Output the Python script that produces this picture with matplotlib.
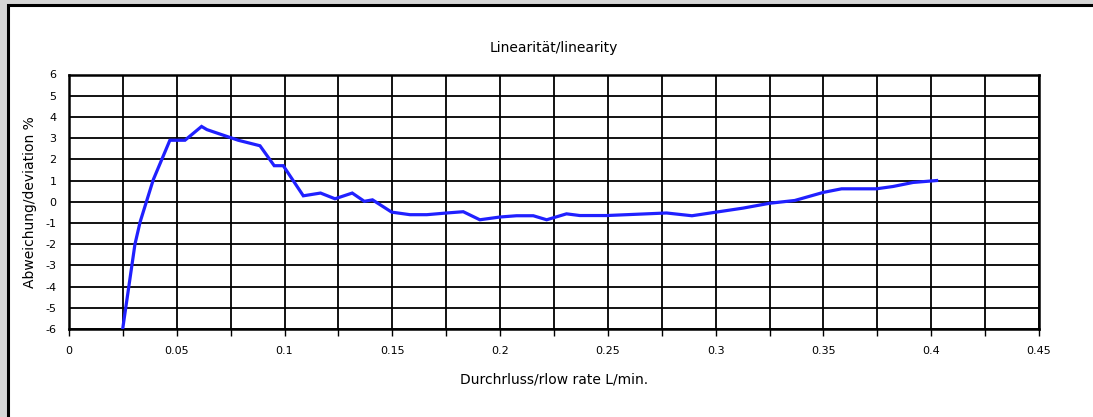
"""Linearity chart: deviation % vs flow rate"""

import matplotlib.pyplot as plt
from matplotlib.patches import Rectangle
from matplotlib.ticker import MultipleLocator, FixedLocator

plt.rcParams['axes.unicode_minus'] = False

# Data
flow = [0.0249, 0.0306, 0.0330, 0.0391, 0.0468, 0.0538, 0.0615, 0.0640,
        0.0785, 0.0886, 0.0952, 0.0994, 0.1087, 0.1167, 0.1234, 0.1314,
        0.1370, 0.1408, 0.1497, 0.1582, 0.1660, 0.1752, 0.1829, 0.1906,
        0.1999, 0.2076, 0.2154, 0.2216, 0.2308, 0.2370, 0.2494, 0.2772,
        0.2890, 0.3127, 0.3251, 0.3367, 0.3499, 0.3584, 0.3746, 0.3823,
        0.3916, 0.4025]
deviation = [-6.0, -2.0, -0.95, 1.04, 2.9, 2.9, 3.55, 3.4,
             2.9, 2.64, 1.70, 1.70, 0.28, 0.41, 0.14, 0.41,
             0.02, 0.09, -0.49, -0.61, -0.61, -0.53, -0.47, -0.85,
             -0.72, -0.66, -0.66, -0.85, -0.57, -0.65, -0.65, -0.53,
             -0.66, -0.30, -0.07, 0.06, 0.44, 0.61, 0.61, 0.72,
             0.91, 1.0]

x_ticks = [0, 0.05, 0.1, 0.15, 0.2, 0.25, 0.3, 0.35, 0.4, 0.45]
x_labels = ['0', '0.05', '0.1', '0.15', '0.2', '0.25', '0.3', '0.35', '0.4', '0.45']
y_ticks = list(range(-6, 7))

W, H = 1093, 417
fig = plt.figure(figsize=(W / 100, H / 100), dpi=100, facecolor='#d6d6d6')

# white panel with black frame (top/left visible)
fig.patches.append(Rectangle((7.5 / W, -0.1), 1.2, 1.1 - 5.5 / H,
                             transform=fig.transFigure, facecolor='white',
                             edgecolor='black', linewidth=2.2, zorder=-10))

ax = fig.add_axes([69 / W, 1 - 329 / H, 970 / W, 254.5 / H])
ax.set_zorder(5)
ax.plot(flow, deviation, color='#2020ff', linewidth=2.3, zorder=3,
        solid_joinstyle='miter')

ax.set_xlim(0, 0.45)
ax.set_ylim(-6, 6)
ax.xaxis.set_major_locator(FixedLocator(x_ticks))
ax.set_xticklabels(x_labels)
ax.xaxis.set_minor_locator(MultipleLocator(0.025))
ax.set_yticks(y_ticks)

ax.grid(True, which='both', axis='x', color='black', linewidth=1.3)
ax.grid(True, which='major', axis='y', color='black', linewidth=1.3)
ax.tick_params(axis='x', which='both', direction='out', length=5,
               width=1.0, labelsize=8, pad=7)
ax.tick_params(axis='y', length=0, labelsize=8, pad=9)
for s in ax.spines.values():
    s.set_linewidth(1.8)

ax.set_title('Linearität/linearity', fontsize=10, pad=16)
ax.set_xlabel('Durchrluss/rlow rate L/min.', fontsize=10, labelpad=12)
ax.set_ylabel('Abweichung/deviation %', fontsize=10, labelpad=6)

plt.savefig('out.png', dpi=100, facecolor=fig.get_facecolor())
